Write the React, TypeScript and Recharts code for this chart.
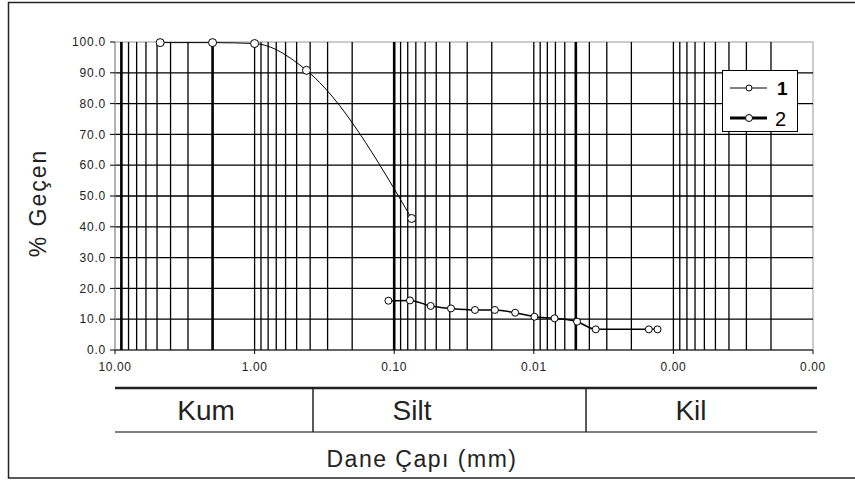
import React from 'react';
import {
  LineChart,
  Line,
  XAxis,
  YAxis,
  ReferenceLine,
  ReferenceArea,
} from 'recharts';

// sieve analysis (curve 1)
const sieveSizes = [4.75, 2.0, 1.0, 0.425, 0.075];
const sievePassing = [99.8, 99.8, 99.5, 90.8, 42.7];

// hydrometer analysis (curve 2)
const hydroSizes = [0.11, 0.0771, 0.0548, 0.0392, 0.0264, 0.019, 0.0136, 0.0099, 0.0071, 0.0049, 0.0036, 0.0015, 0.0013];
const hydroPassing = [16.0, 16.1, 14.3, 13.5, 13.0, 13.0, 12.1, 10.8, 10.3, 9.2, 6.7, 6.7, 6.7];

const xTicks = [10, 1, 0.1, 0.01, 0.001, 0.0001];
const yTicks = [0, 10, 20, 30, 40, 50, 60, 70, 80, 90, 100];
const decades = [1, 0.1, 0.01, 0.001, 0.0001];
const multipliers = [1, 2, 3, 4, 5, 6, 7, 8, 9];
const boldLines = [9, 2, 0.1, 0.005];

const classes = ['Kum', 'Silt', 'Kil'];

const series1 = sieveSizes.map((d, i) => ({ d, p: sievePassing[i] }));
const series2 = hydroSizes.map((d, i) => ({ d, p: hydroPassing[i] }));

// minor log grid lines, skipping the plot edges
const minorLines = decades
  .flatMap((dec) => multipliers.map((m) => +(m * dec).toPrecision(3)))
  .filter((v) => v > 0.0001 && v < 10 && !boldLines.includes(v));

const FONT = '"Liberation Sans", Arial, sans-serif';

const App: React.FC = () => {
  return (
    <div
      style={{
        position: 'absolute',
        left: 0,
        top: 0,
        width: 855,
        height: 482,
        background: '#fff',
        fontFamily: FONT,
      }}
    >
      <LineChart
        width={855}
        height={400}
        margin={{ top: 42, right: 42, bottom: 20, left: 55 }}
      >
        <ReferenceArea
          x1={10}
          x2={0.0001}
          y1={0}
          y2={100}
          fill="none"
          stroke="#999"
          strokeWidth={1}
          ifOverflow="visible"
        />
        {yTicks.slice(1, -1).map((v) => (
          <ReferenceLine key={`h-${v}`} y={v} stroke="#000" strokeWidth={1.3} />
        ))}
        {minorLines.map((v) => (
          <ReferenceLine key={`v-${v}`} x={v} stroke="#000" strokeWidth={1.3} />
        ))}
        {boldLines.map((v) => (
          <ReferenceLine key={`b-${v}`} x={v} stroke="#000" strokeWidth={2.6} />
        ))}
        <XAxis
          type="number"
          dataKey="d"
          scale="log"
          domain={[0.0001, 10]}
          reversed
          ticks={xTicks}
          allowDataOverflow
          tickFormatter={(v: number) => v.toFixed(2)}
          stroke="#000"
          tickSize={4}
          tickMargin={8}
          height={30}
          tick={{ fill: '#222', fontSize: 12, fontFamily: FONT, letterSpacing: 0.6 }}
        />
        <YAxis
          type="number"
          domain={[0, 100]}
          ticks={yTicks}
          width={60}
          tickFormatter={(v: number) => v.toFixed(1)}
          stroke="#999"
          tickLine={{ stroke: '#000' }}
          tickSize={5}
          tickMargin={4}
          tick={{ fill: '#222', fontSize: 12, fontFamily: FONT, letterSpacing: 0.8 }}
        />
        <Line
          data={series1}
          dataKey="p"
          type="monotone"
          stroke="#000"
          strokeWidth={1}
          dot={{ r: 4, fill: '#fff', stroke: '#000', strokeWidth: 1 }}
          isAnimationActive={false}
        />
        <Line
          data={series2}
          dataKey="p"
          type="monotone"
          stroke="#000"
          strokeWidth={1.5}
          dot={{ r: 3.5, fill: '#fff', stroke: '#000', strokeWidth: 1 }}
          isAnimationActive={false}
        />
      </LineChart>

      <svg
        width={855}
        height={482}
        style={{ position: 'absolute', left: 0, top: 0, pointerEvents: 'none' }}
        fontFamily={FONT}
      >
        {/* outer frame */}
        <rect x={8.5} y={2.5} width={860} height={475.5} fill="none" stroke="#222" strokeWidth={1.5} />

        {/* y axis title */}
        <text
          x={0}
          y={0}
          transform="translate(46,203) rotate(-90)"
          textAnchor="middle"
          fontSize={23}
          letterSpacing={2}
          fill="#222"
        >
          % Geçen
        </text>

        {/* legend */}
        <rect x={722.5} y={70.5} width={75} height={61} fill="#fff" stroke="#000" strokeWidth={1} />
        <line x1={730} x2={767} y1={88} y2={88} stroke="#000" strokeWidth={1} />
        <circle cx={749} cy={88} r={3} fill="#fff" stroke="#000" strokeWidth={1} />
        <text x={777} y={95} fontSize={19} fontWeight="bold" fill="#000">1</text>
        <line x1={730} x2={767} y1={118} y2={118} stroke="#000" strokeWidth={3} />
        <circle cx={749} cy={118} r={3.5} fill="#fff" stroke="#000" strokeWidth={1} />
        <text x={775} y={126} fontSize={20} fill="#000">2</text>

        {/* soil class band */}
        <line x1={115} x2={817} y1={388} y2={388} stroke="#222" strokeWidth={2.5} />
        <line x1={115} x2={817} y1={432} y2={432} stroke="#555" strokeWidth={1.5} />
        <line x1={313} x2={313} y1={388} y2={432} stroke="#222" strokeWidth={1.5} />
        <line x1={586} x2={586} y1={388} y2={432} stroke="#222" strokeWidth={1.5} />
        <text x={206} y={420} textAnchor="middle" fontSize={28} fill="#222">{classes[0]}</text>
        <text x={412} y={420} textAnchor="middle" fontSize={28} fill="#222">{classes[1]}</text>
        <text x={691} y={420} textAnchor="middle" fontSize={28} fill="#222">{classes[2]}</text>

        {/* x axis title */}
        <text x={422} y={467} textAnchor="middle" fontSize={23} letterSpacing={1.5} fill="#222">
          Dane Çapı (mm)
        </text>
      </svg>
    </div>
  );
};

export default App;
